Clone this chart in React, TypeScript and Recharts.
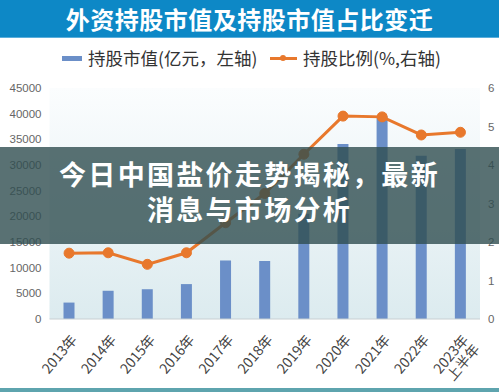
import { ComposedChart, Bar, Line, XAxis, YAxis, CartesianGrid } from 'recharts';

const years = ['2013年', '2014年', '2015年', '2016年', '2017年', '2018年', '2019年', '2020年', '2021年', '2022年', '2023年\n上半年'];
const holdValue = [3200, 5500, 5800, 6800, 11400, 11300, 20500, 34100, 39500, 31800, 33100];
const holdRatio = [1.71, 1.72, 1.42, 1.72, 2.5, 3.26, 4.28, 5.27, 5.25, 4.78, 4.85];
const leftTicks = [0, 5000, 10000, 15000, 20000, 25000, 30000, 35000, 40000, 45000];
const rightTicks = [0, 1, 2, 3, 4, 5, 6];

const data = years.map((year, i) => ({ year, value: holdValue[i], ratio: holdRatio[i] }));

const FONT = '"Liberation Sans", "Noto Sans CJK SC", sans-serif';
const CJK = '"Noto Sans CJK SC", sans-serif';

function YearTick({ x, y, payload }: any) {
  const lines = String(payload.value).split('\n');
  return (
    <g transform={`translate(${x + 5},${y + 10}) rotate(-50)`}>
      {lines.map((l, i) => (
        <text key={i} x={0} y={0} dy={`${0.35 + i * 1.05}em`} textAnchor="end" fill="#444" fontSize={14} fontFamily={CJK}>
          {l}
        </text>
      ))}
    </g>
  );
}

export default function App() {
  return (
    <div style={{ position: 'absolute', left: 0, top: 0, width: 499, height: 392, background: '#fff', overflow: 'hidden' }}>
      <ComposedChart width={499} height={392} data={data} margin={{ top: 88, right: 0, bottom: 0, left: 0 }}>
        <defs>
          <linearGradient id="plotBg" x1="0" y1="0" x2="0" y2="1">
            <stop offset="0%" stopColor="#fbfdfe" />
            <stop offset="100%" stopColor="#dcebef" />
          </linearGradient>
        </defs>
        <CartesianGrid horizontal={false} vertical={false} fill="url(#plotBg)" />
        <XAxis dataKey="year" interval={0} height={73} tickLine={false} axisLine={{ stroke: '#c8cfd2' }} tick={<YearTick />} />
        <YAxis yAxisId="left" width={49.5} domain={[0, 45000]} ticks={leftTicks} axisLine={false} tickLine={false}
          tick={{ fontSize: 11.5, fill: '#666', fontFamily: FONT }} />
        <YAxis yAxisId="right" orientation="right" width={19} domain={[0, 6]} ticks={rightTicks} axisLine={false} tickLine={false}
          tick={{ fontSize: 11.5, fill: '#666', fontFamily: FONT }} />
        <Bar yAxisId="left" dataKey="value" fill="#6b8fc8" barSize={11} isAnimationActive={false} />
        <Line yAxisId="right" dataKey="ratio" type="linear" stroke="#e8782c" strokeWidth={3}
          dot={{ r: 5, fill: '#e8782c', stroke: '#e8782c', strokeWidth: 1 }} isAnimationActive={false} />
      </ComposedChart>

      <div style={{ position: 'absolute', left: 0, top: 0, width: 499, height: 37, background: '#0d88c6', borderBottom: '1px solid #5aaedb',
        color: '#fff', fontFamily: CJK, fontWeight: 700, fontSize: 24, lineHeight: '37px', textAlign: 'center', letterSpacing: 0.5 }}>
        外资持股市值及持股市值占比变迁
      </div>

      <div style={{ position: 'absolute', left: 0, top: 47, width: 499, height: 22, fontFamily: CJK, fontSize: 17.5, color: '#333', lineHeight: '22px' }}>
        <span style={{ position: 'absolute', left: 62, top: 9, width: 20, height: 5, background: '#6b8fc8' }} />
        <span style={{ position: 'absolute', left: 88, top: 0 }}>持股市值(亿元，左轴)</span>
        <span style={{ position: 'absolute', left: 270, top: 10, width: 27, height: 2.5, background: '#e8782c' }} />
        <span style={{ position: 'absolute', left: 280, top: 8, width: 6, height: 6, borderRadius: 3, background: '#e8782c' }} />
        <span style={{ position: 'absolute', left: 303, top: 0 }}>持股比例(%,右轴)</span>
      </div>

      <div style={{ position: 'absolute', left: 0, top: 147, width: 499, height: 97, background: 'rgba(48,78,80,0.8)', color: '#fff',
        fontFamily: CJK, fontWeight: 700, fontSize: 27, lineHeight: '35px', textAlign: 'center', paddingTop: 9, boxSizing: 'border-box', letterSpacing: 2.3 }}>
        <div>今日中国盐价走势揭秘，最新</div>
        <div>消息与市场分析</div>
      </div>

      <div style={{ position: 'absolute', left: 0, top: 388, width: 499, height: 4, background: '#5ea4ae' }} />
    </div>
  );
}
